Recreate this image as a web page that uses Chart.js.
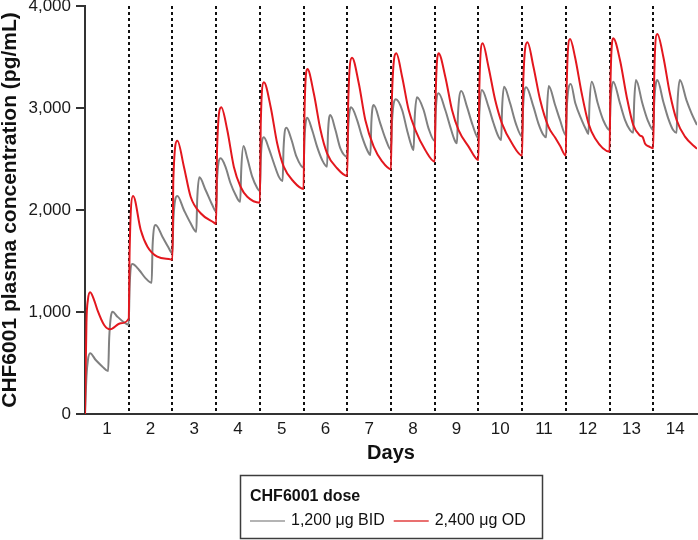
<!DOCTYPE html>
<html>
<head>
<meta charset="utf-8">
<script src="https://cdn.jsdelivr.net/npm/chart.js@4.4.1/dist/chart.umd.min.js"></script>
<style>
html,body{margin:0;padding:0;background:#fff;}
#wrap{width:698px;height:540px;}
</style>
</head>
<body>
<div id="wrap"><canvas id="c" width="698" height="540"></canvas></div>
<script>
// ---- data (time in hours from first dose, concentration in pg/mL) ----
const dayLabels = ['1','2','3','4','5','6','7','8','9','10','11','12','13','14'];
const seriesNames = ['1,200 \u03bcg BID', '2,400 \u03bcg OD'];
const legendTitle = 'CHF6001 dose';
const xTitle = 'Days';
const yTitle = 'CHF6001 plasma concentration (pg/mL)';

const bidHours = [
  0,0.8,1.6,2.8,5.9,9.6,12.7,13.3,15.1,17.8,21.4,24,
  24.5,26,29.7,33.3,36.6,37.1,38.8,42.5,45.6,48,
  48.5,50.7,54.3,58,61.1,61.6,62.8,66.2,69.9,72,
  72.5,74.5,77.1,79.9,82.7,85.2,85.8,87,89.1,91.8,94.6,96,
  96.5,98.2,100.9,103.7,106.4,108.5,109,110.6,113.4,116.1,120,
  120.5,122,124.7,127.4,130.2,132.9,133.4,134.7,137.5,140.2,144,
  144.5,146.1,149.4,152.1,154.9,156.7,157.2,158.5,162.1,164.9,168,
  168.5,170.7,174.1,176.8,179.1,180.4,181,182.3,185.9,188.6,192,
  192.5,194.1,197.8,200.5,202.9,204.2,204.8,206.6,209.7,212.8,216,
  216.5,217.9,221.5,224.3,227,228.5,229,230.1,233.4,236.5,240,
  240.5,242.2,246.2,248.9,251.7,253.2,253.7,254.6,258.1,260.8,264,
  264.5,266.7,269.2,272.7,275.2,276.4,277,278.2,281.5,284.5,288,
  288.5,290,293.7,296.5,299.2,301,301.5,302.5,306,308.9,312,
  312.5,314.2,317.5,320.2,322.9,324.8,325.3,326.6,330.2,333,336
];
const bidConc = [
  0,366,529,595,529,464,421,750,1003,954,899,875,
  1250,1470,1412,1330,1287,1650,1853,1738,1640,1575,
  1900,2137,2000,1870,1787,2100,2320,2196,2049,1985,
  2300,2507,2425,2262,2147,2080,2400,2627,2507,2327,2213,2185,
  2500,2713,2605,2458,2327,2284,2600,2807,2686,2523,2415,
  2700,2905,2784,2621,2490,2425,2750,2931,2784,2605,2523,
  2800,3007,2882,2719,2588,2539,2850,3029,2850,2703,2590,
  2850,3085,2980,2784,2637,2588,2900,3105,2980,2801,2676,
  2950,3144,2980,2817,2686,2654,2950,3167,3013,2833,2703,
  2950,3176,3013,2850,2719,2686,3000,3209,3046,2850,2719,
  3000,3203,3013,2850,2735,2713,3000,3216,3029,2882,2735,
  3000,3235,3046,2882,2784,2745,3050,3258,3046,2882,2784,
  3050,3258,3046,2882,2784,2758,3050,3274,3046,2882,2784,
  3050,3274,3062,2899,2784,2758,3050,3274,3078,2948,2833
];

const odHours = [
  0,0.8,1.6,2.8,5,7,10.5,13.8,19.6,24,
  24.5,26.4,30.6,34.3,39.7,47,48,
  48.5,50.7,54.3,58,63.5,70.8,72,
  72.5,74.8,78.1,81.7,85.4,89.1,96,
  96.5,98.2,101.9,105.5,109.1,114.6,120,
  120.5,122.1,125.6,129.3,132.9,138.4,144,
  144.5,146.6,150.3,153.9,158.5,163,168,
  168.5,170.9,174.1,177.7,181.4,186.8,192,
  192.5,194.1,197.8,201.5,205.1,210.6,216,
  216.5,218.3,221.5,225.2,228.9,234.4,240,
  240.5,242.9,246.2,249.9,254.4,258.1,260.8,264,
  264.5,266.3,269,272.7,276.4,280,288,
  288.5,290,293.7,297.4,301,304.7,306.2,307.5,310,312,
  312.5,314.2,317.5,321.1,324.8,329.4,336
];
const odConc = [
  0,900,1120,1193,1117,1010,872,830,889,935,
  1600,2137,1804,1640,1542,1516,1512,
  2300,2680,2425,2130,1968,1876,1862,
  2600,3007,2784,2425,2228,2130,2072,
  2850,3252,3013,2654,2425,2277,2206,
  2950,3382,3144,2784,2556,2409,2333,
  3050,3493,3242,2882,2621,2480,2400,
  3100,3536,3307,2980,2784,2588,2474,
  3100,3536,3307,2980,2784,2621,2490,
  3200,3634,3405,3078,2850,2654,2533,
  3200,3644,3405,3078,2817,2710,2630,2533,
  3250,3676,3503,3144,2850,2703,2572,
  3250,3683,3471,3111,2833,2730,2715,2650,2620,2605,
  3300,3725,3503,3144,2882,2719,2600
];

// ---- chart ----
const FONT = '"Liberation Sans", Arial, Helvetica, sans-serif';
Chart.defaults.font.family = FONT;
Chart.defaults.color = '#1a1a1a';

const toPoints = (xs, ys) => xs.map((x, i) => ({x: x, y: ys[i]}));

const boxLegend = {
  id: 'boxLegend',
  afterDraw(chart) {
    const ctx = chart.ctx;
    ctx.save();
    ctx.strokeStyle = '#3c3c3c';
    ctx.lineWidth = 1.5;
    ctx.strokeRect(240.5, 475.5, 302, 63);
    ctx.fillStyle = '#111';
    ctx.textAlign = 'left';
    ctx.textBaseline = 'middle';
    ctx.font = 'bold 16px ' + FONT;
    ctx.fillText(legendTitle, 250, 497);
    ctx.font = '16px ' + FONT;
    let x = 250;
    const y = 521;
    chart.data.datasets.forEach(ds => {
      ctx.strokeStyle = ds.legendColor;
      ctx.lineWidth = 2;
      ctx.beginPath();
      ctx.moveTo(x, y);
      ctx.lineTo(x + 35, y);
      ctx.stroke();
      x += 41;
      ctx.fillStyle = '#111';
      ctx.fillText(ds.label, x, y);
      x += ctx.measureText(ds.label).width + 9;
    });
    ctx.restore();
  }
};

new Chart(document.getElementById('c'), {
  type: 'line',
  data: {
    datasets: [
      {
        label: seriesNames[0],
        data: toPoints(bidHours, bidConc),
        borderColor: '#808080',
        legendColor: '#b4b4b4',
        borderWidth: 2,
        pointRadius: 0,
        cubicInterpolationMode: 'monotone',
        fill: false,
        order: 1
      },
      {
        label: seriesNames[1],
        data: toPoints(odHours, odConc),
        borderColor: '#e3171e',
        legendColor: '#e97070',
        borderWidth: 2,
        pointRadius: 0,
        cubicInterpolationMode: 'monotone',
        fill: false,
        order: 0
      }
    ]
  },
  options: {
    responsive: false,
    animation: false,
    devicePixelRatio: 1,
    layout: { padding: { top: 6, right: 1, bottom: 70, left: 0 } },
    plugins: { legend: { display: false }, tooltip: { enabled: false } },
    scales: {
      x: {
        type: 'linear',
        min: 0,
        max: 336,
        ticks: {
          stepSize: 12,
          autoSkip: false,
          maxRotation: 0,
          minRotation: 0,
          padding: 5,
          color: '#1a1a1a',
          font: { size: 17 },
          callback: v => (v % 24 === 12) ? dayLabels[(v - 12) / 24] : ''
        },
        grid: {
          drawTicks: false,
          lineWidth: 2,
          color: c => (c.tick && c.tick.value % 24 === 0 && c.tick.value > 0 && c.tick.value < 336) ? '#111' : 'rgba(0,0,0,0)'
        },
        border: { display: true, color: '#333', width: 2, dash: [3, 3] },
        title: {
          display: true,
          text: xTitle,
          color: '#111',
          font: { size: 20, weight: 'bold', lineHeight: 1.2 },
          padding: { top: 0, bottom: 5 }
        },
        afterFit: s => { s.height = 56; s.paddingLeft = 0; s.paddingRight = 0; }
      },
      y: {
        min: 0,
        max: 4000,
        ticks: {
          stepSize: 1000,
          padding: 5,
          color: '#1a1a1a',
          font: { size: 17 },
          callback: v => v.toLocaleString('en-US')
        },
        grid: { drawOnChartArea: false, drawTicks: true, tickLength: 9, color: '#333', lineWidth: 2 },
        border: { display: true, color: '#333', width: 2 },
        title: {
          display: true,
          text: yTitle,
          color: '#111',
          font: { size: 21, weight: 'bold', lineHeight: 1 },
          padding: 0
        },
        afterFit: s => { s.width = 85; s.paddingTop = 0; s.paddingBottom = 0; }
      }
    }
  },
  plugins: [boxLegend]
});
</script>
</body>
</html>
